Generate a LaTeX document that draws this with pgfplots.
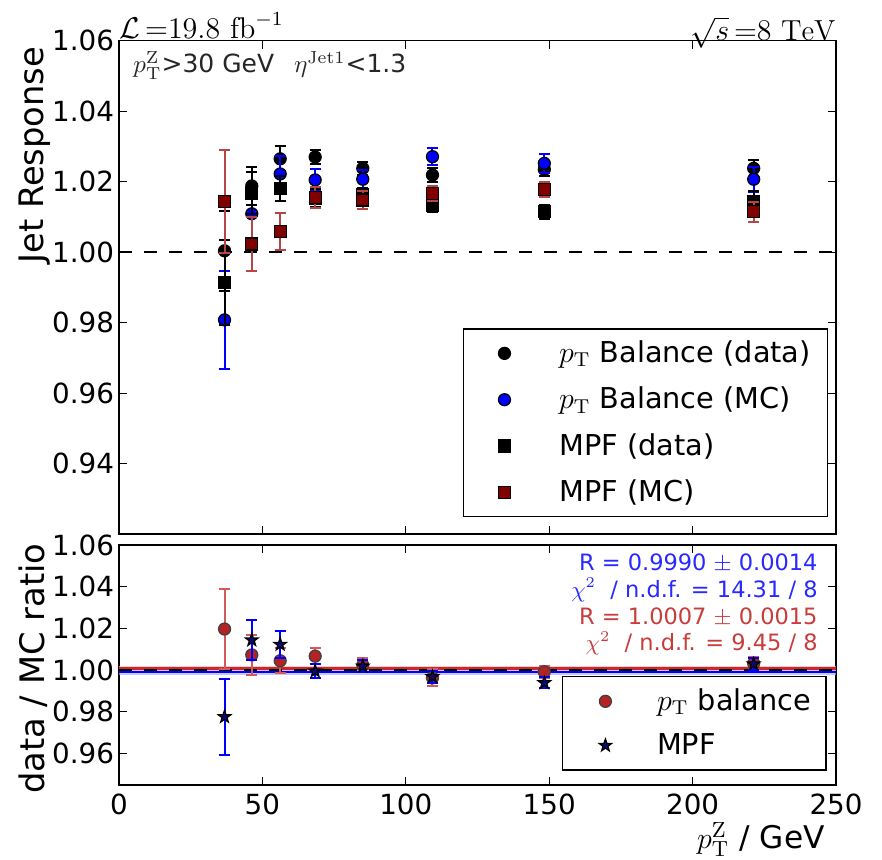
\documentclass[border=0pt]{standalone}
\usepackage{pgfplots}
\pgfplotsset{compat=1.18}
\usepackage{pgfplotstable}
\usepackage{fontspec}
\setsansfont{DejaVu Sans}
\definecolor{mcblue}{RGB}{0,0,255}
\definecolor{mpfred}{RGB}{128,0,0}
\definecolor{errred}{RGB}{180,70,70}
\definecolor{ratred}{RGB}{180,35,35}
\definecolor{raterr}{RGB}{210,90,90}
\definecolor{starblue}{RGB}{10,10,120}
\definecolor{txtblue}{RGB}{40,40,255}
\definecolor{txtred}{RGB}{200,60,60}
\definecolor{fitred}{RGB}{205,40,40}
\definecolor{bandred}{RGB}{240,185,185}
\definecolor{bandblue}{RGB}{175,175,255}

\pgfdeclareplotmark{fstar}{%
  \pgfpathmoveto{\pgfpointpolar{90}{\pgfplotmarksize}}%
  \pgfpathlineto{\pgfpointpolar{126}{0.4\pgfplotmarksize}}%
  \pgfpathlineto{\pgfpointpolar{162}{\pgfplotmarksize}}%
  \pgfpathlineto{\pgfpointpolar{198}{0.4\pgfplotmarksize}}%
  \pgfpathlineto{\pgfpointpolar{234}{\pgfplotmarksize}}%
  \pgfpathlineto{\pgfpointpolar{270}{0.4\pgfplotmarksize}}%
  \pgfpathlineto{\pgfpointpolar{306}{\pgfplotmarksize}}%
  \pgfpathlineto{\pgfpointpolar{342}{0.4\pgfplotmarksize}}%
  \pgfpathlineto{\pgfpointpolar{18}{\pgfplotmarksize}}%
  \pgfpathlineto{\pgfpointpolar{54}{0.4\pgfplotmarksize}}%
  \pgfpathclose\pgfusepathqfillstroke}

\pgfplotstableread{
x y e
36.8 1.0004 0.0114
46.3 1.0188 0.0055
56.2 1.0265 0.0035
68.4 1.0270 0.0020
85.0 1.0238 0.0018
109.3 1.0219 0.0020
148.3 1.0235 0.0020
221.3 1.0238 0.0024
}\databal
\pgfplotstableread{
x y e
36.8 0.9808 0.0140
46.3 1.0109 0.0074
56.2 1.0222 0.0050
68.4 1.0205 0.0030
85.0 1.0207 0.0027
109.3 1.0271 0.0024
148.3 1.0252 0.0027
221.3 1.0207 0.0035
}\mcbal
\pgfplotstableread{
x y e
36.8 0.9914 0.0120
46.3 1.0167 0.0060
56.2 1.0180 0.0036
68.4 1.0153 0.0025
85.0 1.0163 0.0020
109.3 1.0134 0.0020
148.3 1.0115 0.0020
221.3 1.0144 0.0030
}\datampf
\pgfplotstableread{
x y e
36.8 1.0144 0.0146
46.3 1.0023 0.0076
56.2 1.0058 0.0052
68.4 1.0156 0.0030
85.0 1.0148 0.0026
109.3 1.0167 0.0022
148.3 1.0177 0.0021
221.3 1.0115 0.0028
}\mcmpf
\pgfplotstableread{
x y e
36.8 1.0197 0.0190
46.3 1.0073 0.0096
56.2 1.0045 0.0060
68.4 1.0067 0.0037
85.0 1.0024 0.0035
109.3 0.9963 0.0040
148.3 0.9992 0.0030
221.3 1.0032 0.0030
}\ratbal
\pgfplotstableread{
x y e
36.8 0.9776 0.0183
46.3 1.0144 0.0096
56.2 1.0123 0.0064
68.4 0.9995 0.0035
85.0 1.0019 0.0030
109.3 0.9968 0.0030
148.3 0.9939 0.0027
221.3 1.0029 0.0030
}\ratmpf

\newcommand{\tfont}{\sffamily\fontsize{11.1}{13}\selectfont}
\newcommand{\lfont}{\sffamily\fontsize{13.5}{16}\selectfont}

\pgfplotsset{
  base/.style={
    scale only axis, width=286.8pt,
    xmin=0, xmax=250, xtick={0,50,100,150,200,250},
    tick align=inside, major tick length=3.2pt,
    every tick/.style={black, line width=0.5pt},
    axis line style={line width=0.6pt},
    tick label style={font=\tfont},
    /pgf/number format/assume math mode=true,
    scaled y ticks=false,
    y tick label style={/pgf/number format/.cd, fixed, fixed zerofill, precision=2, /tikz/.cd},
    yticklabel style={xshift=1.5pt},
    legend cell align=left,
    clip mode=individual,
  },
  ebar/.style={error bars/.cd, y dir=both, y explicit, error bar style={line width=0.8pt, #1},
    error mark=-, error mark options={#1, line width=0.8pt, mark size=2.2pt, rotate=90}},
}

\begin{document}
\begin{tikzpicture}
\useasboundingbox (0,0) rectangle (352.8pt,-343.6pt);
% ---------------- top panel ----------------
\begin{axis}[base, at={(47.6pt,-16.28pt)}, anchor=north west, height=197.4pt,
  ymin=0.92, ymax=1.06, ytick={0.94,0.96,0.98,1.00,1.02,1.04,1.06},
  xticklabels={},
  ylabel={Jet Response},
  every axis y label/.style={at={(axis description cs:-0.117,0.768)}, rotate=90, anchor=center, font=\lfont},
  legend image code/.code={\path (0pt,0pt) (17pt,0pt); \draw[mark repeat=2,mark phase=2,#1] plot coordinates {(0pt,0pt) (9.4pt,0pt) (17pt,0pt)};},
  legend style={at={(axis description cs:0.4794,0.4172)}, anchor=north west, draw=black, line width=0.6pt, fill=white,
    font=\sffamily\fontsize{11.5}{13}\selectfont, inner xsep=6.7pt, inner ysep=4.6pt, row sep=8.3pt,
    nodes={inner sep=0pt}, /tikz/every odd column/.append style={column sep=14pt}},
]
\addplot[black, line width=1pt, dash pattern=on 5.2pt off 4.8pt, forget plot] coordinates {(0,1) (250,1)};
\addplot[black, only marks, mark=*, mark size=2.4pt, mark options={fill=black, draw=black, line width=0.5pt}, ebar=black]
  table[x=x, y=y, y error=e] {\databal};
\addlegendentry{$p_{\mathrm{T}}$ Balance (data)}
\addplot[mcblue, only marks, mark=*, mark size=2.4pt, mark options={fill=mcblue, draw=black, line width=0.5pt}, ebar=mcblue]
  table[x=x, y=y, y error=e] {\mcbal};
\addlegendentry{$p_{\mathrm{T}}$ Balance (MC)}
\addplot[black, only marks, mark=square*, mark size=2.4pt, mark options={fill=black, draw=black, line width=0.5pt}, ebar=black]
  table[x=x, y=y, y error=e] {\datampf};
\addlegendentry{MPF (data)}
\addplot[errred, only marks, mark=square*, mark size=2.4pt, mark options={fill=mpfred, draw=black, line width=0.5pt}, ebar=errred]
  table[x=x, y=y, y error=e] {\mcmpf};
\addlegendentry{MPF (MC)}
\node[anchor=base west, inner sep=0pt, font=\fontsize{12}{14}\selectfont] at (rel axis cs:0,1) [yshift=1pt] {$\mathcal{L}\,{=}19.8\ \mathrm{fb}^{-1}$};
\node[anchor=base east, inner sep=0pt, font=\fontsize{11.6}{14}\selectfont] at (rel axis cs:1,1) [yshift=0pt] {$\sqrt{s}\,{=}8\ \mathrm{TeV}$};
\node[anchor=base west, inner sep=0pt, text=black!85, font=\sffamily\fontsize{10}{12}\selectfont] at (rel axis cs:0,1) [xshift=5.6pt, yshift=-12.9pt] {$p_{\mathrm{T}}^{\mathrm{Z}}$>30 GeV\hspace{8pt}$\eta^{\mathrm{Jet1}}$<1.3};
\end{axis}
% ---------------- bottom panel ----------------
\begin{axis}[base, at={(47.6pt,-218pt)}, anchor=north west, height=95.9pt,
  ymin=0.945, ymax=1.06, ytick={0.96,0.98,1.00,1.02,1.04,1.06},
  xlabel={$p_{\mathrm{T}}^{\mathrm{Z}}$ / GeV},
  every axis x label/.style={at={(axis description cs:1,0)}, anchor=base east, xshift=-1pt, yshift=-25.5pt, font=\sffamily\fontsize{12.5}{15}\selectfont},
  ylabel={data / MC ratio},
  every axis y label/.style={at={(axis description cs:-0.12,0.484)}, rotate=90, anchor=center, font=\lfont},
  legend image code/.code={\path (0pt,0pt) (20pt,0pt); \draw[mark repeat=2,mark phase=2,#1] plot coordinates {(0pt,0pt) (10.9pt,0pt) (20pt,0pt)};},
  legend style={at={(axis description cs:0.6174,0.4545)}, anchor=north west, draw=black, line width=0.6pt, fill=white,
    font=\sffamily\fontsize{11.5}{13}\selectfont, inner xsep=6pt, inner ysep=4.8pt, row sep=7.6pt,
    nodes={inner sep=0pt}, /tikz/every odd column/.append style={column sep=11.3pt}},
]
\addplot[draw=none, fill=bandblue, fill opacity=0.7, forget plot] coordinates {(0,0.9976) (250,0.9976) (250,1.0004) (0,1.0004)} -- cycle;
\addplot[draw=none, fill=bandred, fill opacity=0.7, forget plot] coordinates {(0,0.9992) (250,0.9992) (250,1.0022) (0,1.0022)} -- cycle;
\addplot[mcblue, line width=1pt, forget plot] coordinates {(0,0.9990) (250,0.9990)};
\addplot[fitred, line width=1pt, forget plot] coordinates {(0,1.0007) (250,1.0007)};
\addplot[black, line width=1pt, dash pattern=on 5.2pt off 4.8pt, forget plot] coordinates {(0,1) (250,1)};
\addplot[raterr, only marks, mark=*, mark size=2.4pt, mark options={fill=ratred, draw=black!75, line width=0.5pt}, ebar=raterr]
  table[x=x, y=y, y error=e] {\ratbal};
\addlegendentry{$p_{\mathrm{T}}$ balance}
\addplot[mcblue, only marks, mark=fstar, mark size=2.6pt, mark options={fill=starblue, draw=black, line width=0.5pt}, ebar=mcblue]
  table[x=x, y=y, y error=e] {\ratmpf};
\addlegendentry{MPF}
\node[anchor=north east, inner sep=0pt, align=right, font=\sffamily\fontsize{9}{10.7}\selectfont] at (rel axis cs:0.975,0.965)
  {\textcolor{txtblue}{R = 0.9990 $\pm$ 0.0014}\\
   \textcolor{txtblue}{$\chi^2$\ \ / n.d.f. = 14.31 / 8}\\
   \textcolor{txtred}{R = 1.0007 $\pm$ 0.0015}\\
   \textcolor{txtred}{$\chi^2$\ \ / n.d.f. = 9.45 / 8}};
\end{axis}
\end{tikzpicture}
\end{document}
